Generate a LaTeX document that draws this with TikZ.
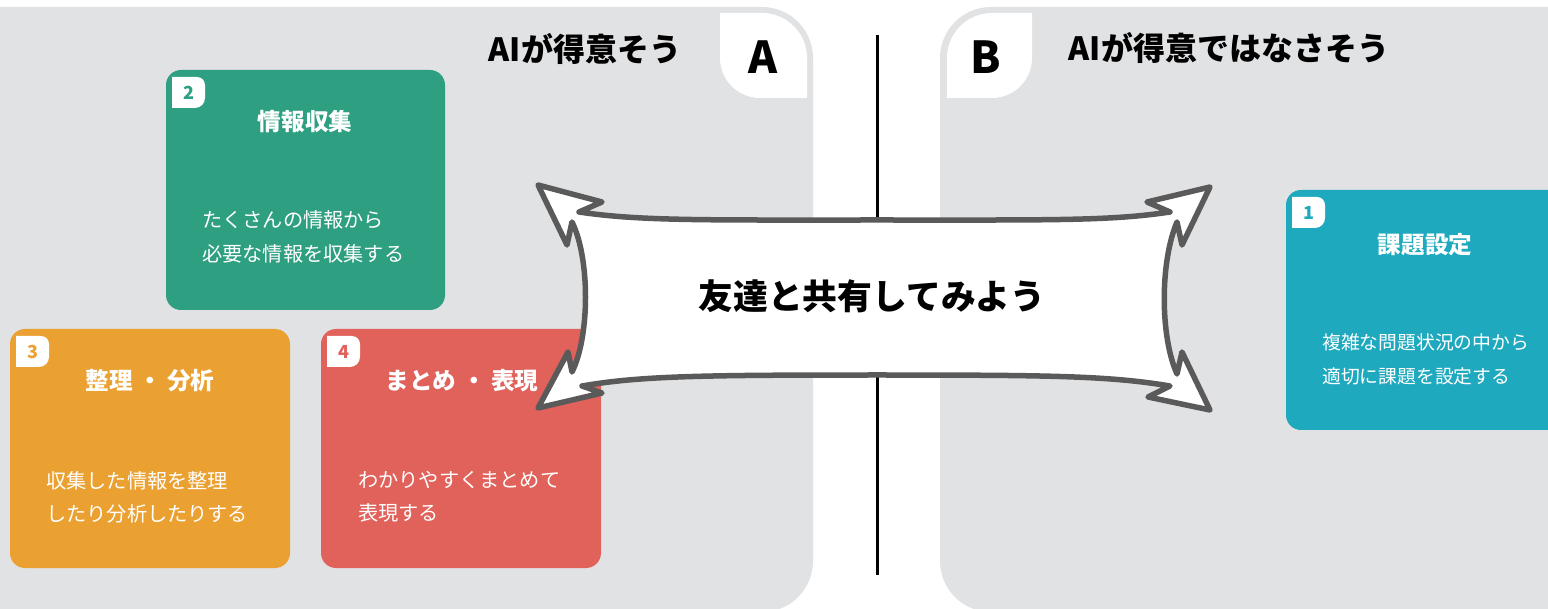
\documentclass[tikz,border=0pt]{standalone}
\usepackage{fontspec}
\setmainfont{Noto Sans CJK JP}
\definecolor{panel}{HTML}{E1E2E4}
\definecolor{cgreen}{HTML}{2F9F81}
\definecolor{cteal}{HTML}{1FA9BF}
\definecolor{corange}{HTML}{EBA131}
\definecolor{cred}{HTML}{E0625B}
\definecolor{bstroke}{HTML}{5A5A5B}
\tikzset{
  card/.style={rectangle, rounded corners=15pt, fill=#1, draw=none, inner sep=0pt},
  cardtitle/.style={text=white, font=\bfseries\fontsize{23.6}{28}\selectfont, inner sep=0pt},
  cardbody/.style={text=white, font=\fontsize{20.2}{33.5}\selectfont, align=left, anchor=west, inner sep=0pt},
  cardnum/.style={text=#1, font=\bfseries\fontsize{18}{20}\selectfont, inner sep=0pt},
  heading/.style={text=black, font=\bfseries\fontsize{32}{38}\selectfont, inner sep=0pt},
  letter/.style={text=black, font=\bfseries\fontsize{44}{50}\selectfont, inner sep=0pt},
  numtab/.pic={
    \fill[white] (0,0) -- (25,0) .. controls (29.4,0) and (33,3.6) .. (33,8)
      -- (33,21) .. controls (33,26.5) and (28.5,31) .. (23,31) -- (0,31) -- cycle;
  }
}
\begin{document}
\begin{tikzpicture}[x=1pt,y=-1pt]
\useasboundingbox (0,0) rectangle (1548,609);
\fill[white] (0,0) rectangle (1548,609);
% panels
\fill[panel, rounded corners=51pt] (-200,7) rectangle (813,612);
\fill[panel, rounded corners=51pt] (940,7) rectangle (1748,612);
% tab A
\fill[white] (720,13) -- (762,13) .. controls (786.8,13) and (807,33.2) .. (807,58)
  -- (807,98) -- (760,98) .. controls (738,98) and (720,80) .. (720,58) -- cycle;
% tab B
\fill[white] (992,13) -- (1032,13) -- (1032,58) .. controls (1032,80) and (1014,98) .. (992,98)
  -- (947,98) -- (947,58) .. controls (947,33.2) and (967.2,13) .. (992,13) -- cycle;
\node[letter] (la) at (763,57) {A};
\node[letter] (lb) at (986,57) {B};
\node[heading] (ha) at (585,49) {AIが得意そう};
\node[heading] (hb) at (1229,48) {AIが得意ではなさそう};
% divider
\draw[line width=3pt, black] (877,35) -- (877,575);
% card 2
\node[card=cgreen, minimum width=279pt, minimum height=240pt] (c2) at (305.5,190) {};
\pic at (172,77) {numtab};
\node[cardnum=cgreen] (n2) at (188.5,92.5) {2};
\node[cardtitle] (t2) at (305,122) {情報収集};
\node[cardbody] (b2) at (202,237) {たくさんの情報から\\必要な情報を収集する};
% card 1
\node[card=cteal, minimum width=300pt, minimum height=240pt] (c1) at (1436,310) {};
\pic at (1292,197) {numtab};
\node[cardnum=cteal] (n1) at (1308.5,212.5) {1};
\node[cardtitle] (t1) at (1425,245) {課題設定};
\node[cardbody, font=\fontsize{18.8}{34}\selectfont] (b1) at (1322,359) {複雑な問題状況の中から\\適切に課題を設定する};
% card 3
\node[card=corange, minimum width=280pt, minimum height=239pt] (c3) at (150,448.5) {};
\pic at (16,336) {numtab};
\node[cardnum=corange] (n3) at (32.5,351.5) {3};
\node[cardtitle] (t3) at (150,381) {整理 ・ 分析};
\node[cardbody] (b3) at (46,497.5) {収集した情報を整理\\ したり分析したりする};
% card 4
\node[card=cred, minimum width=280pt, minimum height=239pt] (c4) at (461,448.5) {};
\pic at (327,336) {numtab};
\node[cardnum=cred] (n4) at (343.5,351.5) {4};
\node[cardtitle] (t4) at (462,381) {まとめ ・ 表現};
\node[cardbody] (b4) at (358,496.5) {わかりやすくまとめて\\表現する};
% banner
\filldraw[fill=white, draw=bstroke, line width=5.5pt, line join=round]
  (572,222) -- (567,245) -- (538,185) -- (602,202) -- (579,212)
  .. controls (640,221) and (700,220) .. (877,220)
  .. controls (1054,220) and (1110,221) .. (1170,212)
  -- (1147,202) -- (1210,187) -- (1182,245) -- (1177,222)
  .. controls (1160,262) and (1160,336) .. (1177,374)
  -- (1182,352) -- (1210,410) -- (1148,397) -- (1170,386)
  .. controls (1110,376) and (1054,375) .. (877,375)
  .. controls (700,375) and (640,376) .. (582,386)
  -- (602,393) -- (538,408) -- (568,352) -- (572,372)
  .. controls (590,336) and (590,258) .. (572,222) -- cycle;
\node[text=black, font=\bfseries\fontsize{34.8}{40}\selectfont, inner sep=0pt] (bt) at (872,296) {友達と共有してみよう};
\end{tikzpicture}
\end{document}
